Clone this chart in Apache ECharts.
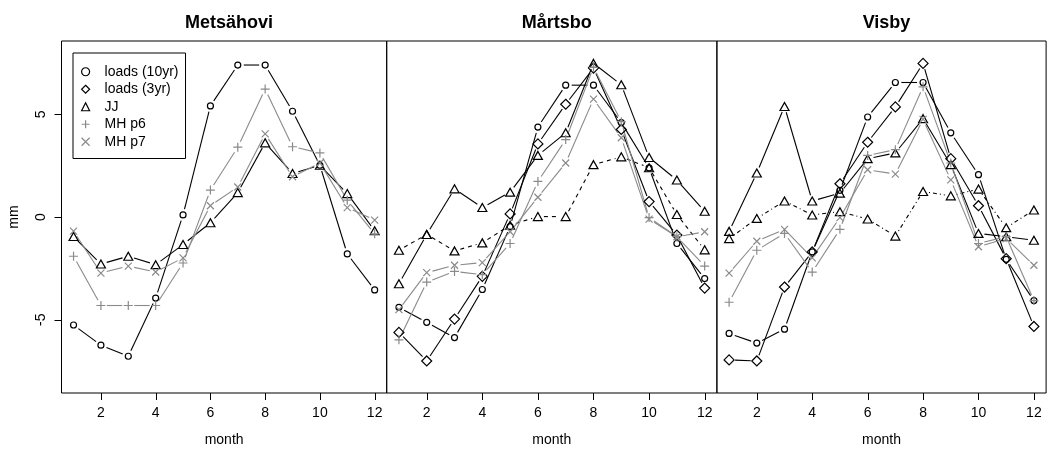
<!DOCTYPE html>
<html><head><meta charset="utf-8">
<script src="https://cdn.jsdelivr.net/npm/echarts@6/dist/echarts.min.js"></script>
<style>html,body{margin:0;padding:0;background:#fff}#c{width:1047px;height:457px}</style>
</head><body><div id="c"></div>
<script>
// ---- data ----
const months = [1,2,3,4,5,6,7,8,9,10,11,12];
const xTickLabels = [2,4,6,8,10,12];
const yTickLabels = [-5,0,5];
const panelTitles = ['Metsähovi','Mårtsbo','Visby'];
const seriesNames = ['loads (10yr)','loads (3yr)','JJ','MH p6','MH p7'];

// Metsähovi
const metsLoads10 = [-5.26,-6.24,-6.78,-3.95,0.1,5.41,7.4,7.4,5.15,2.52,-1.8,-3.55];
const metsJJ      = [-0.95,-2.29,-1.91,-2.32,-1.34,-0.28,1.19,3.61,2.12,2.52,1.14,-0.67];
const metsP6      = [-1.91,-4.31,-4.31,-4.31,-2.24,1.31,3.4,6.23,3.42,3.12,0.82,-0.82];
const metsP7      = [-0.69,-2.73,-2.39,-2.68,-1.99,0.55,1.46,4.05,1.96,2.63,0.46,-0.15];

// Mårtsbo
const martLoads10 = [-4.4,-5.13,-5.87,-3.53,-0.47,4.38,6.42,6.42,4.6,2.39,-1.29,-3.0];
const martLoads3  = [-5.62,-7.01,-4.97,-2.89,0.15,3.56,5.49,7.25,4.26,0.75,-0.88,-3.46];
const martJJa     = [-3.25,-0.85,1.37,0.46,1.21,3.0,4.1,7.48,6.44,2.9,1.8,0.28];
const martJJb     = [-1.62,-0.85,-1.65,-1.26,-0.4,0.02,0.02,2.55,2.93,2.4,0.12,-1.6];
const martP6      = [-5.98,-3.17,-2.65,-2.81,-1.29,1.73,3.77,7.29,4.64,-0.03,-0.96,-2.39];
const martP7      = [-4.51,-2.71,-2.35,-2.22,-0.72,0.96,2.63,5.74,3.86,-0.1,-0.96,-0.72];

// Visby
const visLoads10 = [-5.67,-6.14,-5.46,-1.7,1.3,4.87,6.55,6.55,4.1,2.06,-2.06,-4.07];
const visLoads3  = [-6.96,-7.01,-3.41,-1.7,1.62,3.64,5.36,7.48,2.84,0.55,-2.03,-5.33];
const visJJa     = [-0.7,2.14,5.38,0.78,1.16,2.84,3.12,4.79,2.55,-0.8,-0.96,-1.13];
const visJJb     = [-1.05,-0.07,0.78,0.1,0.26,-0.1,-0.93,1.24,1.03,1.36,-0.52,0.34];
const visP6      = [-4.15,-1.62,-0.8,-2.68,-0.6,3.0,3.28,6.34,2.63,-1.29,-0.96,-4.07];
const visP7      = [-2.73,-1.18,-0.6,-1.99,-0.03,2.3,2.09,4.75,1.81,-1.45,-1.05,-2.35];

// ---- axes ranges ----
const X_MIN = 0.56, X_MAX = 12.44;
const Y_MIN = -8.57, Y_MAX = 8.57;

// ---- styling ----
const GRAY = '#8a8a8a';
const FONT = 'Liberation Sans, Arial, Helvetica, sans-serif';
const SYM = {
  'loads (10yr)': {symbol:'circle', size:6, color:'#000'},
  'loads (3yr)':  {symbol:'diamond', size:[10,10], color:'#000'},
  'JJ':           {symbol:'triangle', size:[9,8], color:'#000'},
  'MH p6':        {symbol:'path://M0,5L10,5M5,0L5,10', size:9, color:GRAY},
  'MH p7':        {symbol:'path://M0,0L10,10M0,10L10,0', size:7, color:GRAY}
};
const DASH = {solid:null, dashed:[4,4], dotdash:[1,3,4,3]};
const GAP = 6;
const TICK = 7;

const grids = [
  {left:61.5, top:41, width:325.2, height:352},
  {left:386.7, top:41, width:330.2, height:352},
  {left:716.9, top:41, width:329.2, height:352}
];

function lineSeries(name, vals, gi, dash) {
  const segs = [];
  for (let i = 0; i < months.length - 1; i++) segs.push([months[i], vals[i], months[i+1], vals[i+1]]);
  const color = SYM[name].color;
  return {
    type:'custom', name, xAxisIndex:gi, yAxisIndex:gi, data:segs, silent:true,
    encode:{x:[0,2], y:[1,3]},
    renderItem:(params, api) => {
      const a = api.coord([api.value(0), api.value(1)]);
      const b = api.coord([api.value(2), api.value(3)]);
      const dx = b[0]-a[0], dy = b[1]-a[1];
      const L = Math.hypot(dx, dy);
      if (L <= 2*GAP) return {type:'group', children:[]};
      const ux = dx/L, uy = dy/L;
      return {type:'line', shape:{x1:a[0]+ux*GAP, y1:a[1]+uy*GAP, x2:b[0]-ux*GAP, y2:b[1]-uy*GAP},
        style:{stroke:color, lineWidth:1.1, lineDash:DASH[dash] || null, fill:null}};
    }
  };
}
function markSeries(name, vals, gi) {
  const s = SYM[name];
  return {
    type:'scatter', name, xAxisIndex:gi, yAxisIndex:gi, silent:true,
    symbol:s.symbol, symbolSize:s.size,
    itemStyle:{color:'rgba(0,0,0,0)', borderColor:s.color, borderWidth:1.2, opacity:1},
    data: months.map((m,i)=>[m, vals[i]])
  };
}
function both(name, vals, gi, dash) { return [lineSeries(name, vals, gi, dash||'solid'), markSeries(name, vals, gi)]; }

const series = [].concat(
  both('loads (10yr)', metsLoads10, 0),
  both('JJ', metsJJ, 0),
  both('MH p6', metsP6, 0),
  both('MH p7', metsP7, 0),

  both('loads (10yr)', martLoads10, 1),
  both('loads (3yr)', martLoads3, 1),
  both('JJ', martJJa, 1),
  both('JJ', martJJb, 1, 'dashed'),
  both('MH p6', martP6, 1),
  both('MH p7', martP7, 1),

  both('loads (10yr)', visLoads10, 2),
  both('loads (3yr)', visLoads3, 2),
  both('JJ', visJJa, 2),
  both('JJ', visJJb, 2, 'dotdash'),
  both('MH p6', visP6, 2),
  both('MH p7', visP7, 2)
);

const xAxes = grids.map((g,i)=>({
  type:'value', gridIndex:i, min:X_MIN, max:X_MAX, position:'bottom',
  axisLine:{show:false, onZero:false}, splitLine:{show:false},
  axisTick:{show:false},
  axisLabel:{show:true, customValues:xTickLabels, margin:13, fontSize:14, color:'#000', fontFamily:FONT},
  name:'month', nameLocation:'middle', nameGap:40,
  nameTextStyle:{fontSize:14, color:'#000', fontFamily:FONT}
}));
const yAxes = grids.map((g,i)=>({
  type:'value', gridIndex:i, min:Y_MIN, max:Y_MAX, position:'left',
  axisLine:{show:false, onZero:false}, splitLine:{show:false},
  axisTick:{show:false},
  axisLabel:{show:i===0, customValues:yTickLabels, rotate:90, margin:13, fontSize:14, color:'#000', fontFamily:FONT},
  name: i===0 ? 'mm' : '', nameLocation:'middle', nameGap:40, nameRotate:90,
  nameTextStyle:{fontSize:14, color:'#000', fontFamily:FONT}
}));

const titles = grids.map((g,i)=>({
  text: panelTitles[i], left: g.left + g.width/2, top: 9, textAlign:'center',
  textStyle:{fontSize:18, fontWeight:'bold', color:'#000', fontFamily:FONT}
}));

const legendData = seriesNames.map(n=>({
  name:n, icon:SYM[n].symbol,
  itemStyle:{color:'rgba(0,0,0,0)', borderColor:SYM[n].color, borderWidth:1.2}
}));

const chart = echarts.init(document.getElementById('c'), null, {renderer:'canvas'});
chart.setOption({
  animation:false,
  backgroundColor:'#fff',
  title: titles,
  grid: grids.map(g=>Object.assign({show:true, borderColor:'#000', borderWidth:1, backgroundColor:'transparent'}, g)),
  xAxis: xAxes,
  yAxis: yAxes,
  legend: {
    orient:'vertical', left:73, top:53, data:legendData, selectedMode:false,
    itemWidth:8, itemHeight:8, itemGap:0,
    textStyle:{fontSize:14, color:'#000', fontFamily:FONT, lineHeight:17.5, padding:[0,0,0,10]},
    borderColor:'#000', borderWidth:1, padding:[10,7,8,8], backgroundColor:'#fff'
  },
  series
});

// tick marks, positioned through the axes' own scales
const tickEls = [];
grids.forEach((g, gi) => {
  xTickLabels.forEach(v => {
    const p = chart.convertToPixel({gridIndex:gi}, [v, Y_MIN]);
    const x = Math.round(p[0]) + 0.5;
    tickEls.push({type:'line', silent:true, z:100,
      shape:{x1:x, y1:p[1], x2:x, y2:p[1] + TICK}, style:{stroke:'#000', lineWidth:1}});
  });
});
yTickLabels.forEach(v => {
  const p = chart.convertToPixel({gridIndex:0}, [X_MIN, v]);
  const y = Math.round(p[1]) + 0.5;
  tickEls.push({type:'line', silent:true, z:100,
    shape:{x1:p[0] - TICK, y1:y, x2:p[0], y2:y}, style:{stroke:'#000', lineWidth:1}});
});
chart.setOption({graphic:{elements:tickEls}});
</script>
</body></html>
